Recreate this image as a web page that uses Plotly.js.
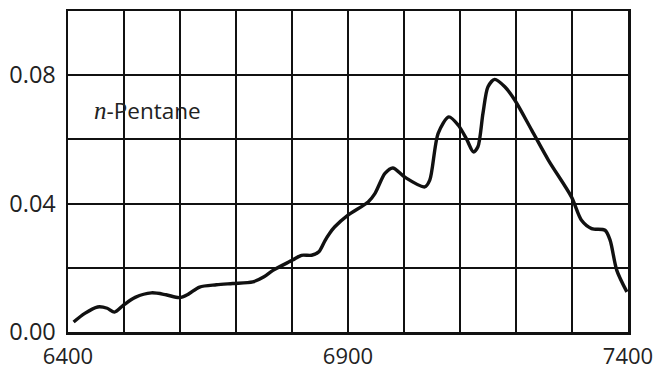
<!DOCTYPE html>
<html>
<head>
<meta charset="utf-8">
<script src="https://cdn.plot.ly/plotly-3.0.1.min.js"></script>
<style>html,body{margin:0;padding:0;background:#fff;}#chart{width:655px;height:374px;}</style>
</head>
<body>
<div id="chart"></div>
<script>
const wavenumber = [6410, 6430, 6453, 6470, 6483, 6500, 6520, 6549, 6575, 6599, 6615, 6635, 6665, 6694, 6730, 6750, 6766, 6801, 6817, 6835, 6848, 6859, 6867, 6876, 6900, 6936, 6948, 6966, 6980, 7001, 7037, 7046, 7061, 7080, 7097, 7112, 7124, 7132, 7141, 7150, 7162, 7180, 7198, 7228, 7258, 7299, 7317, 7335, 7359, 7368, 7380, 7398];
const absorbance = [0.0031, 0.0058, 0.0078, 0.0074, 0.0062, 0.0085, 0.0108, 0.0122, 0.0116, 0.0107, 0.0118, 0.0140, 0.0147, 0.0151, 0.0156, 0.0172, 0.0192, 0.0224, 0.0239, 0.0239, 0.0250, 0.0285, 0.0307, 0.0327, 0.0364, 0.0405, 0.0431, 0.0494, 0.0511, 0.0483, 0.0452, 0.0473, 0.0619, 0.0670, 0.0644, 0.0600, 0.0561, 0.0577, 0.0681, 0.0764, 0.0787, 0.0764, 0.0722, 0.0629, 0.0535, 0.0421, 0.0348, 0.0322, 0.0317, 0.0286, 0.0192, 0.0125];
const xTicks = [6400, 6900, 7400];
const yTicks = [0.00, 0.04, 0.08];
const label = '<span style="font-family:\'Liberation Serif\'; font-size:25px"><i>n</i></span>-Pentane';

const trace = {
  x: wavenumber, y: absorbance, type: 'scatter', mode: 'lines',
  line: {color: '#111', width: 3.4, shape: 'spline', smoothing: 0.8},
  hoverinfo: 'none'
};
const gridCol = '#111';
const layout = {
  width: 655, height: 374,
  margin: {l: 68, r: 27, t: 11, b: 42},
  paper_bgcolor: '#fff', plot_bgcolor: '#fff',
  showlegend: false,
  font: {family: 'Open Sans, sans-serif', color: '#222', size: 23},
  xaxis: {
    range: [6400, 7400], tickvals: xTicks, ticktext: xTicks.map(String),
    showgrid: true, gridcolor: gridCol, gridwidth: 2,
    minor: {dtick: 100, tick0: 6400, showgrid: true, gridcolor: gridCol, gridwidth: 2},
    showline: true, linecolor: gridCol, linewidth: 2.5, mirror: true,
    zeroline: false, ticks: '', ticklabelstandoff: 3,
    tickfont: {size: 22, color: '#222'}
  },
  yaxis: {
    range: [0, 0.1], tickvals: yTicks, ticktext: yTicks.map(v => v.toFixed(2)),
    showgrid: true, gridcolor: gridCol, gridwidth: 2,
    minor: {dtick: 0.02, tick0: 0, showgrid: true, gridcolor: gridCol, gridwidth: 2},
    showline: true, linecolor: gridCol, linewidth: 2.5, mirror: true,
    zeroline: false, ticks: '', ticklabelstandoff: 5,
    tickfont: {size: 23.5, color: '#222'}
  },
  annotations: [{
    x: 6442, y: 0.069, xref: 'x', yref: 'y', xanchor: 'left', yanchor: 'middle',
    text: label, showarrow: false, font: {size: 22.5, color: '#222'}
  }]
};
Plotly.newPlot('chart', [trace], layout, {displayModeBar: false, staticPlot: true});
</script>
</body>
</html>
